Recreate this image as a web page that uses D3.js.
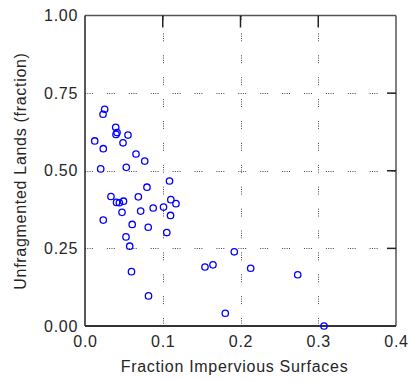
<!DOCTYPE html>
<html>
<head>
<meta charset="utf-8">
<script src="https://cdn.jsdelivr.net/npm/d3@7"></script>
<style>
  html, body { margin: 0; padding: 0; background: #fff; }
  svg { display: block; }
  text { font-family: "Liberation Sans", Arial, sans-serif; fill: #262626; }
</style>
</head>
<body>
<svg id="chart" width="411" height="381"></svg>
<script>
// ---- data ----
const xValues = [0.0253, 0.0232, 0.0395, 0.0412, 0.0399, 0.0553, 0.0125, 0.0489, 0.0235, 0.0656,
                 0.0768, 0.0202, 0.0531, 0.1087, 0.0797, 0.0334, 0.0686, 0.0406, 0.0442, 0.0495,
                 0.1104, 0.1170, 0.0877, 0.1010, 0.0476, 0.0716, 0.1100, 0.0235, 0.0607, 0.0813,
                 0.1052, 0.0527, 0.0575, 0.0598, 0.0817, 0.1920, 0.1543, 0.1646, 0.2131, 0.2736,
                 0.1804, 0.3074];
const yValues = [0.698, 0.682, 0.640, 0.623, 0.617, 0.615, 0.596, 0.590, 0.571, 0.554,
                 0.531, 0.506, 0.511, 0.467, 0.447, 0.417, 0.416, 0.398, 0.397, 0.402,
                 0.407, 0.394, 0.380, 0.383, 0.366, 0.370, 0.356, 0.341, 0.327, 0.318,
                 0.301, 0.287, 0.257, 0.175, 0.097, 0.239, 0.190, 0.197, 0.186, 0.165,
                 0.041, 0.000];
const xTicks = [0, 0.1, 0.2, 0.3, 0.4];
const yTicks = [0, 0.25, 0.5, 0.75, 1.0];
const xGrid = [0.1, 0.2, 0.3];
const yGrid = [0.25, 0.5, 0.75];
const xTitle = "Fraction Impervious Surfaces";
const yTitle = "Unfragmented Lands (fraction)";

// ---- layout ----
const pL = 85, pT = 15.5, pR = 396, pB = 326;
const svg = d3.select("#chart");
const x = d3.scaleLinear().domain([0, 0.4]).range([pL, pR]);
const y = d3.scaleLinear().domain([0, 1]).range([pB, pT]);

const dash = "1 1.3 1 1.3 1 1.3 1 14";

// grid (dotted, MATLAB style)
svg.append("g").selectAll("line").data(xGrid).join("line")
  .attr("x1", d => Math.round(x(d)) + 0.5).attr("x2", d => Math.round(x(d)) + 0.5)
  .attr("y1", pB).attr("y2", pT)
  .attr("stroke", "#444").attr("stroke-width", 1).attr("stroke-dasharray", dash);
svg.append("g").selectAll("line").data(yGrid).join("line")
  .attr("y1", d => Math.round(y(d)) + 0.5).attr("y2", d => Math.round(y(d)) + 0.5)
  .attr("x1", pL).attr("x2", pR)
  .attr("stroke", "#444").attr("stroke-width", 1).attr("stroke-dasharray", dash);

// frame
svg.append("line").attr("x1", pL).attr("x2", pR).attr("y1", pT).attr("y2", pT)
  .attr("stroke", "#555").attr("stroke-width", 1.3);
svg.append("line").attr("x1", pR).attr("x2", pR).attr("y1", pT).attr("y2", pB)
  .attr("stroke", "#555").attr("stroke-width", 1.5);
svg.append("line").attr("x1", pL).attr("x2", pL).attr("y1", pT).attr("y2", pB)
  .attr("stroke", "#222").attr("stroke-width", 1.5);
svg.append("line").attr("x1", pL).attr("x2", pR).attr("y1", pB).attr("y2", pB)
  .attr("stroke", "#333").attr("stroke-width", 1.8);

// inside ticks on top and right
svg.append("g").selectAll("line").data(xGrid).join("line")
  .attr("x1", d => x(d)).attr("x2", d => x(d)).attr("y1", pT).attr("y2", pT + 12)
  .attr("stroke", "#222").attr("stroke-width", 1.5);
svg.append("g").selectAll("line").data(yGrid).join("line")
  .attr("y1", d => y(d)).attr("y2", d => y(d)).attr("x1", pR).attr("x2", pR - 9)
  .attr("stroke", "#222").attr("stroke-width", 1.5);

// axes (labels only)
const xAxis = svg.append("g").attr("transform", `translate(0,${pB})`)
  .call(d3.axisBottom(x).tickValues(xTicks).tickFormat(d3.format(".1f")).tickSize(0).tickPadding(10));
const yAxis = svg.append("g").attr("transform", `translate(${pL},0)`)
  .call(d3.axisLeft(y).tickValues(yTicks).tickFormat(d3.format(".2f")).tickSize(0).tickPadding(7));
[xAxis, yAxis].forEach(g => {
  g.select(".domain").remove();
  g.selectAll("text").attr("font-size", 16).attr("letter-spacing", "0.7px")
    .attr("font-family", "'Liberation Sans', Arial, sans-serif").attr("fill", "#262626");
});

// points
svg.append("g").selectAll("circle").data(xValues.map((v, i) => [v, yValues[i]])).join("circle")
  .attr("cx", d => x(d[0])).attr("cy", d => y(d[1])).attr("r", 3.2)
  .attr("fill", "none").attr("stroke", "#0000ff").attr("stroke-width", 1.3);

// titles
svg.append("text").attr("x", 234.5).attr("y", 371.5).attr("text-anchor", "middle")
  .attr("font-size", 16).attr("letter-spacing", "0.7px").text(xTitle);
svg.append("text").attr("transform", "translate(26,171) rotate(-90)").attr("text-anchor", "middle")
  .attr("font-size", 16).attr("letter-spacing", "0.7px").text(yTitle);
</script>
</body>
</html>
